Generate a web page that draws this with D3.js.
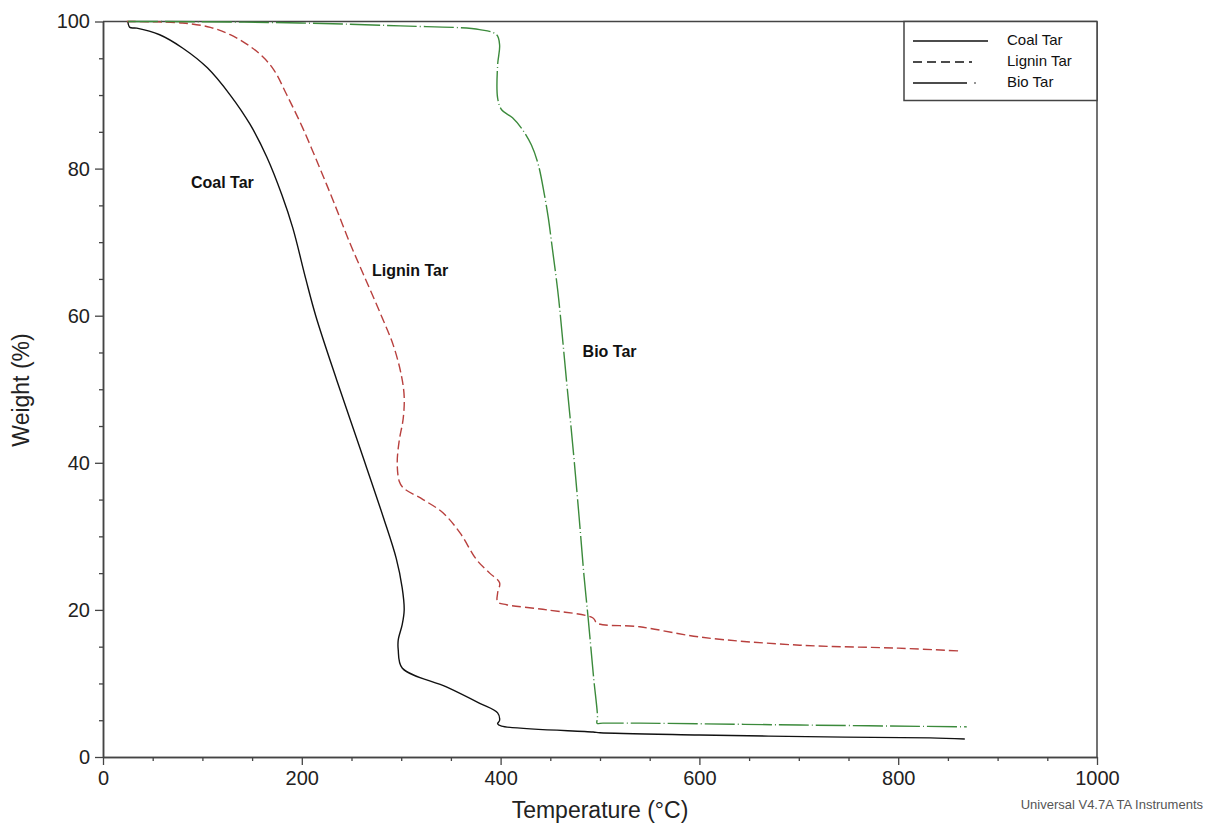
<!DOCTYPE html>
<html>
<head>
<meta charset="utf-8">
<script src="https://d3js.org/d3.v7.min.js"></script>
<style>
  body { margin: 0; background: #fff; }
  text { font-family: Arial, "Liberation Sans", sans-serif; }
</style>
</head>
<body>
<script>
  // TGA curves: [temperature °C, weight %]
  var coalTar = [[25,100],[27,99.2],[34,99.1],[57,98.2],[80,96.4],[105,93.7],[128,90.0],[148,86.0],
    [165,81.5],[180,76.4],[191,71.9],[204,65.0],[214,60.0],[235,51.3],[259,41.8],[282,32.6],
    [295,27.0],[301,23.0],[303,20.0],[301,18.0],[297,15.9],[297,14.6],[301,12.1],[346,9.5],
    [379,7.3],[397,6.0],[399,5.0],[397,4.5],[401,4.2],[493,3.4],[500,3.3],[600,3.0],[746,2.7],
    [832,2.6],[867,2.45]];

  var ligninTar = [[24,100],[80,99.8],[108,99.2],[128,98.2],[145,96.9],[160,95.3],[172,93.4],
    [185,90.0],[201,85.5],[218,80.1],[232,75.5],[248,70.0],[264,65.0],[280,60.0],[292,56.0],
    [300,52.0],[303,49.0],[302,46.0],[298,43.0],[296,40.0],[298,37.5],[302,36.6],[322,35.0],
    [342,33.2],[359,30.5],[376,26.8],[389,25.0],[399,23.7],[397,22.3],[397,21.1],[406,20.7],
    [447,20.0],[493,18.9],[497,18.2],[540,17.7],[601,16.3],[701,15.2],[800,14.8],[864,14.4]];

  var bioTar = [[25,100],[64,100],[198,99.8],[299,99.4],[379,98.9],[396,98.2],[399,96.8],
    [397,94.1],[397,89.6],[401,88.0],[412,86.9],[422,85.3],[431,83.2],[438,80.5],[444,76.5],
    [448,73.3],[452,69.2],[455.5,65.6],[458.5,62.2],[466.5,50.9],[473,41.8],[479,32.6],
    [484,24.5],[488,19.0],[493.5,10.9],[497.5,5.4],[497,4.6],[503,4.6],[540,4.6],[701,4.35],
    [869,4.1]];

  var seriesNames = ["Coal Tar", "Lignin Tar", "Bio Tar"];
  var seriesColors = ["#111111", "#b8403e", "#3b8a3b"];
  var seriesDash = ["none", "9,4", "30,3,1,3"];

  // in-plot labels [name, temperature, weight]
  var curveLabels = [["Coal Tar", 88.5, 77.9], ["Lignin Tar", 270.6, 66.0], ["Bio Tar", 482.5, 55.0]];

  var xTicks = [0, 200, 400, 600, 800, 1000];
  var yTicks = [0, 20, 40, 60, 80, 100];

  var width = 1205, height = 825;
  var plotLeft = 103, plotRight = 1097, plotTop = 21.5, plotBottom = 757;
  var axisColor = "#444";

  var svg = d3.select("body").append("svg")
    .attr("width", width)
    .attr("height", height);

  var x = d3.scaleLinear().domain([0, 1000]).range([plotLeft, plotRight]);
  var y = d3.scaleLinear().domain([0, 100]).range([plotBottom, plotTop]);

  // minor ticks
  var xMinor = d3.range(0, 1001, 50).filter(function(d) { return d % 200 != 0; });
  var yMinor = d3.range(0, 101, 5).filter(function(d) { return d % 20 != 0; });

  svg.append("g")
    .attr("transform", "translate(0," + plotBottom + ")")
    .call(d3.axisBottom(x).tickValues(xTicks).tickFormat(d3.format("d"))
      .tickSize(8).tickPadding(6).tickSizeOuter(0));
  svg.append("g")
    .attr("transform", "translate(0," + plotBottom + ")")
    .call(d3.axisBottom(x).tickValues(xMinor).tickSize(4).tickFormat("").tickSizeOuter(0));

  svg.append("g")
    .attr("transform", "translate(" + plotLeft + ",0)")
    .call(d3.axisLeft(y).tickValues(yTicks).tickSize(8).tickPadding(5).tickSizeOuter(0));
  svg.append("g")
    .attr("transform", "translate(" + plotLeft + ",0)")
    .call(d3.axisLeft(y).tickValues(yMinor).tickSize(4).tickFormat("").tickSizeOuter(0));

  svg.selectAll(".domain").attr("stroke", axisColor).attr("stroke-width", 1.5);
  svg.selectAll(".tick line").attr("stroke", axisColor).attr("stroke-width", 1.3);
  svg.selectAll(".tick text")
    .attr("fill", "#222")
    .style("font-size", "20px")
    .style("font-family", "Arial, 'Liberation Sans', sans-serif");

  // top and right frame
  svg.append("line")
    .attr("x1", plotLeft).attr("x2", plotRight).attr("y1", plotTop).attr("y2", plotTop)
    .attr("stroke", axisColor).attr("stroke-width", 1.5);
  svg.append("line")
    .attr("x1", plotRight).attr("x2", plotRight).attr("y1", plotTop).attr("y2", plotBottom)
    .attr("stroke", axisColor).attr("stroke-width", 1.5);

  // curves
  var line = d3.line()
    .x(function(d) { return x(d[0]); })
    .y(function(d) { return y(d[1]); })
    .curve(d3.curveCatmullRom.alpha(0.5));

  [coalTar, ligninTar, bioTar].forEach(function(data, i) {
    svg.append("path")
      .datum(data)
      .attr("d", line)
      .attr("fill", "none")
      .attr("stroke", seriesColors[i])
      .attr("stroke-width", 1.4)
      .attr("stroke-dasharray", seriesDash[i]);
  });

  // curve labels
  svg.selectAll(".curvelabel")
    .data(curveLabels)
    .enter().append("text")
    .attr("class", "curvelabel")
    .attr("x", function(d) { return x(d[1]); })
    .attr("y", function(d) { return y(d[2]); })
    .attr("dominant-baseline", "middle")
    .style("font-size", "16px")
    .style("font-weight", "bold")
    .attr("fill", "#111")
    .text(function(d) { return d[0]; });

  // legend
  var legend = svg.append("g");
  legend.append("rect")
    .attr("x", 904).attr("y", plotTop)
    .attr("width", plotRight - 904).attr("height", 79)
    .attr("fill", "#fff")
    .attr("stroke", axisColor).attr("stroke-width", 1.5);

  seriesNames.forEach(function(name, i) {
    var ly = 41 + i * 21;
    if (i == 2) {
      legend.append("line")
        .attr("x1", 913).attr("x2", 967).attr("y1", ly).attr("y2", ly)
        .attr("stroke", "#111").attr("stroke-width", 1.4);
      legend.append("circle")
        .attr("cx", 975).attr("cy", ly).attr("r", 0.8).attr("fill", "#111");
    } else {
      legend.append("line")
        .attr("x1", 913).attr("x2", i == 0 ? 988 : 972).attr("y1", ly).attr("y2", ly)
        .attr("stroke", "#111").attr("stroke-width", 1.4)
        .attr("stroke-dasharray", i == 1 ? "9,5" : "none");
    }
    legend.append("text")
      .attr("x", 1007).attr("y", ly)
      .attr("dominant-baseline", "middle")
      .style("font-size", "15px")
      .attr("fill", "#111")
      .text(name);
  });

  // axis titles
  svg.append("text")
    .attr("x", (plotLeft + plotRight) / 2)
    .attr("y", 812)
    .attr("text-anchor", "middle")
    .attr("dominant-baseline", "middle")
    .style("font-size", "23px")
    .attr("fill", "#222")
    .text("Temperature (°C)");

  svg.append("text")
    .attr("transform", "translate(23,390) rotate(-90)")
    .attr("text-anchor", "middle")
    .attr("dominant-baseline", "middle")
    .style("font-size", "23px")
    .attr("fill", "#222")
    .text("Weight (%)");

  svg.append("text")
    .attr("x", 1203)
    .attr("y", 806)
    .attr("text-anchor", "end")
    .attr("dominant-baseline", "middle")
    .style("font-size", "13px")
    .attr("fill", "#555")
    .text("Universal V4.7A TA Instruments");
</script>
</body>
</html>
